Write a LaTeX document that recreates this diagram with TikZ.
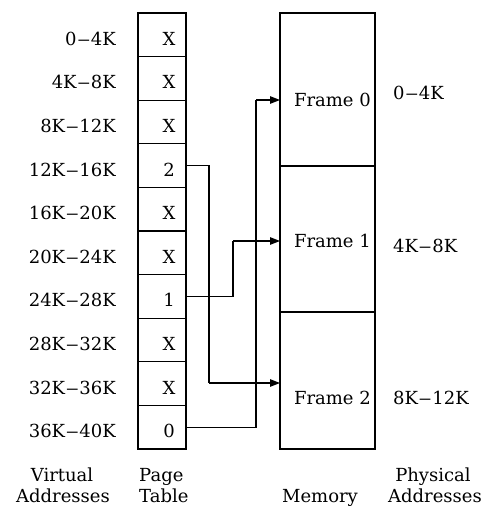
\documentclass[tikz,border=0pt]{standalone}
\usepackage{fontspec}
\setmainfont{DejaVu Serif}
\usetikzlibrary{arrows.meta}
\newcommand{\rdash}{\kern0.6pt\scalebox{1.45}[1]{–}\kern0.6pt}
\begin{document}
\begin{tikzpicture}[x=1pt,y=-1pt,
  every node/.style={font=\fontsize{18}{21}\selectfont},
  cell/.style={draw,line width=1.1pt,minimum width=48pt,minimum height=43.6pt,inner sep=0pt,outer sep=0pt},
  frame/.style={draw,line width=1.1pt,minimum width=95pt,inner sep=0pt,outer sep=0pt},
  lbl/.style={inner sep=0pt},
  conn/.style={line width=1.1pt},
  arr/.style={line width=1.1pt,-{Triangle[length=10pt,width=7.5pt]}}]
\useasboundingbox (0,0) rectangle (492,522);
% page table and virtual addresses
\foreach \i/\a/\b/\e in {0/0/4K/X,1/4K/8K/X,2/8K/12K/X,3/12K/16K/2,4/16K/20K/X,5/20K/24K/X,6/24K/28K/1,7/28K/32K/X,8/32K/36K/X,9/36K/40K/0}{
  \node[cell] (c\i) at (162,{13+43.6*(\i+0.5)}) {};
  \node[lbl,anchor=base] (t\i) at (169,{13+43.6*(\i+0.5)+10.5}) {\e};
  \node[lbl,anchor=base east] (v\i) at (116,{13+43.6*(\i+0.5)+10.5}) {\a\rdash\b};
}
% memory frames
\node[frame,minimum height=153pt] (f0) at (327.5,89.5) {};
\node[frame,minimum height=146pt] (f1) at (327.5,239) {};
\node[frame,minimum height=137pt] (f2) at (327.5,380.5) {};
\node[lbl,anchor=base east] (n0) at (371,106) {Frame 0};
\node[lbl,anchor=base east] (n1) at (371,247) {Frame 1};
\node[lbl,anchor=base east] (n2) at (371,404) {Frame 2};
% physical addresses
\node[lbl,anchor=base west] (p0) at (393,99) {0\rdash 4K};
\node[lbl,anchor=base west] (p1) at (393,252) {4K\rdash 8K};
\node[lbl,anchor=base west] (p2) at (393,404) {8K\rdash 12K};
% connectors
\coordinate (j2) at (209,383);
\coordinate (e2) at (280,383);
\coordinate (j1) at (233,241);
\coordinate (e1) at (280,241);
\coordinate (j0) at (256,100);
\coordinate (e0) at (280,100);
\draw[conn] (c3.east) -| (j2);
\draw[arr] (j2) -- (e2);
\draw[conn] (c6.east) -| (j1);
\draw[arr] (j1) -- (e1);
\draw[conn] (c9.east) -| (j0);
\draw[arr] (j0) -- (e0);
% captions
\node[lbl,anchor=base] (va1) at (62,481) {Virtual};
\node[lbl,anchor=base] (va2) at (63,502) {Addresses};
\node[lbl,anchor=base west] (pt1) at (139,481) {Page};
\node[lbl,anchor=base west] (pt2) at (139,502) {Table};
\node[lbl,anchor=base] (mem) at (320,502) {Memory};
\node[lbl,anchor=base] (pa1) at (433,481) {Physical};
\node[lbl,anchor=base] (pa2) at (435,502) {Addresses};
\end{tikzpicture}
\end{document}
